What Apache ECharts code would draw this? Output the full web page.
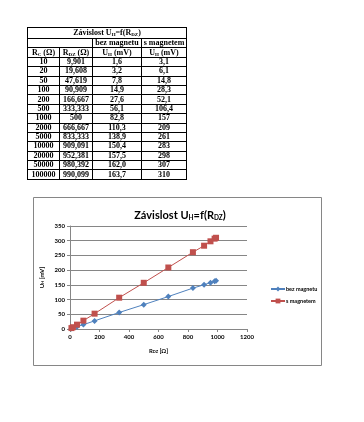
<!DOCTYPE html>
<html><head><meta charset="utf-8">
<script src="https://cdn.jsdelivr.net/npm/echarts@6/dist/echarts.min.js"></script>
<style>
html,body{margin:0;padding:0;background:#fff;width:364px;height:422px;overflow:hidden}
#chart{position:absolute;left:0;top:0;width:364px;height:422px}
#tbl{position:absolute;left:27px;top:27px;border-collapse:collapse;table-layout:fixed;font-family:"Liberation Serif","DejaVu Serif",serif;font-size:8px;font-weight:bold;color:#000;z-index:2}
#tbl td{border:1px solid #000;padding:0;text-align:center;line-height:8px;height:8.4px;overflow:hidden;white-space:nowrap}
#tbl tr.t td{height:10px}
#tbl sub{font-size:5px;vertical-align:-1px;line-height:0}
</style></head>
<body>
<div id="chart"></div>
<table id="tbl"></table>
<script>
// ---- data ----
const rC = ['10','20','50','100','200','500','1000','2000','5000','10000','20000','50000','100000'];
const rDZlabels = ['9,901','19,608','47,619','90,909','166,667','333,333','500','666,667','833,333','909,091','952,381','980,392','990,099'];
const rDZ = [9.901,19.608,47.619,90.909,166.667,333.333,500,666.667,833.333,909.091,952.381,980.392,990.099];
const bezMagnetu = [1.6,3.2,7.8,14.9,27.6,56.1,82.8,110.3,138.9,150.4,157.5,162.0,163.7];
const sMagnetem = [3.1,6.1,14.8,28.3,52.1,106.4,157,209,261,283,298,307,310];
const bezLabels = ['1,6','3,2','7,8','14,9','27,6','56,1','82,8','110,3','138,9','150,4','157,5','162,0','163,7'];
const sLabels = ['3,1','6,1','14,8','28,3','52,1','106,4','157','209','261','283','298','307','310'];
const xTicks = [0,200,400,600,800,1000,1200];
const yTicks = [0,50,100,150,200,250,300,350];

// ---- table ----
const tbl = document.getElementById('tbl');
let html = '<colgroup><col style="width:32px"><col style="width:33px"><col style="width:49px"><col style="width:45px"></colgroup>';
html += '<tr class="t"><td colspan="4">Závislost U<sub>H</sub>=f(R<sub>DZ</sub>)</td></tr>';
html += '<tr><td colspan="2"></td><td>bez magnetu</td><td>s magnetem</td></tr>';
html += '<tr><td>R<sub>C</sub> (Ω)</td><td>R<sub>DZ</sub> (Ω)</td><td>U<sub>H</sub> (mV)</td><td>U<sub>H</sub> (mV)</td></tr>';
for (let i = 0; i < rC.length; i++) {
  html += '<tr><td>' + rC[i] + '</td><td>' + rDZlabels[i] + '</td><td>' + bezLabels[i] + '</td><td>' + sLabels[i] + '</td></tr>';
}
tbl.innerHTML = html;

// ---- chart ----
const chart = echarts.init(document.getElementById('chart'), null, {renderer:'canvas'});
const font = 'Lato, "Open Sans", sans-serif';
const gray = '#868686';
chart.setOption({
  animation:false,
  textStyle:{fontFamily:font},
  title:{
    text:'{a|Závislost U}{s|H}{a|=f(R}{s|DZ}{a|)}',
    left:175, top:204, textAlign:'center',
    textStyle:{rich:{
      a:{fontSize:11,fontWeight:'bold',fontFamily:font,color:'#000'},
      s:{fontSize:6.5,fontWeight:'bold',fontFamily:font,color:'#000',verticalAlign:'bottom',padding:[5,0,0,0]}
    }}
  },
  graphic:[{type:'rect',shape:{x:33.5,y:197.5,width:288,height:168},style:{fill:'none',stroke:gray,lineWidth:1},z:-1}],
  grid:{left:70,top:226,width:177,height:103},
  legend:{
    orient:'vertical', left:265, top:281, itemWidth:14, itemHeight:6, itemGap:6,
    textStyle:{fontSize:5.5,fontWeight:'bold',color:'#000',fontFamily:font,padding:[0,0,0,-4]},
    data:['bez magnetu','s magnetem']
  },
  xAxis:{
    type:'value', min:xTicks[0], max:xTicks[xTicks.length-1], interval:200,
    name:'{a|R}{s|DZ}{a| [Ω]}', nameLocation:'middle', nameGap:19,
    nameTextStyle:{rich:{a:{fontSize:6,fontWeight:'bold',color:'#000'},s:{fontSize:4,fontWeight:'bold',color:'#000',verticalAlign:'bottom'}}},
    axisLine:{lineStyle:{color:gray}}, axisTick:{length:3,lineStyle:{color:gray}},
    axisLabel:{fontSize:6,fontWeight:'bold',color:'#000',margin:5,formatter:v=>String(v)},
    splitLine:{show:false}
  },
  yAxis:{
    type:'value', min:yTicks[0], max:yTicks[yTicks.length-1], interval:50,
    name:'{a|U}{s|H}{a| [mV]}', nameLocation:'middle', nameGap:25,
    nameTextStyle:{rich:{a:{fontSize:6,fontWeight:'bold',color:'#000'},s:{fontSize:4,fontWeight:'bold',color:'#000',verticalAlign:'bottom'}}},
    axisLine:{show:true,lineStyle:{color:gray}}, axisTick:{show:true,length:3,lineStyle:{color:gray}},
    axisLabel:{fontSize:6,fontWeight:'bold',color:'#000',margin:5,formatter:v=>String(v)},
    splitLine:{lineStyle:{color:gray,width:1}}
  },
  series:[
    {name:'bez magnetu', type:'line', data:rDZ.map((x,i)=>[x,bezMagnetu[i]]),
     color:'#4F81BD', symbol:'diamond', symbolSize:6, lineStyle:{width:1}, itemStyle:{color:'#4F81BD'}},
    {name:'s magnetem', type:'line', data:rDZ.map((x,i)=>[x,sMagnetem[i]]),
     color:'#C0504D', symbol:'rect', symbolSize:6, lineStyle:{width:1}, itemStyle:{color:'#C0504D'}}
  ]
});
</script>
</body></html>
